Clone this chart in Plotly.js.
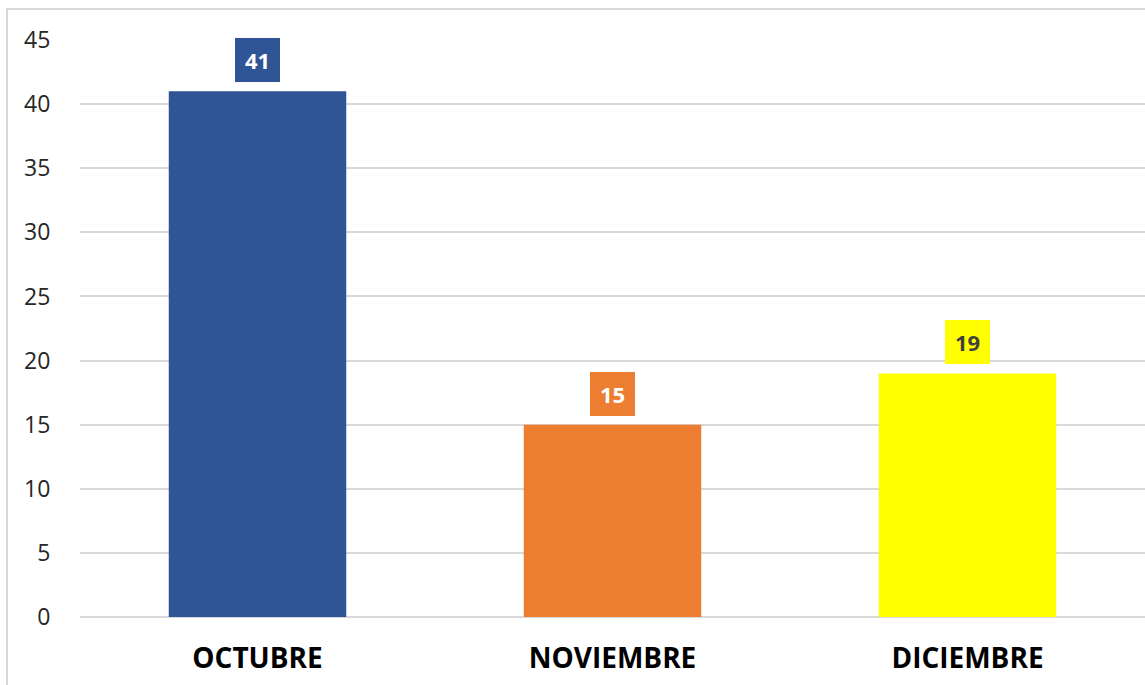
<!DOCTYPE html>
<html>
<head>
<meta charset="utf-8">
<script src="https://cdn.plot.ly/plotly-3.0.1.min.js"></script>
<style>
html,body{margin:0;padding:0;background:#fff;}
#wrap{position:relative;width:1145px;height:685px;overflow:hidden;}
#chart{width:1145px;height:685px;}
#frame{position:absolute;left:6px;top:8px;width:1200px;height:800px;border:2px solid #d9d9d9;pointer-events:none;}
</style>
</head>
<body>
<div id="wrap"><div id="chart"></div><div id="frame"></div></div>
<script>
const categories = ["OCTUBRE", "NOVIEMBRE", "DICIEMBRE"];
const values = [41, 15, 19];
const barColors = ["#2F5597", "#ED7D31", "#FFFF00"];
const labelTextColors = ["#ffffff", "#ffffff", "#404040"];
const yTickVals = [0, 5, 10, 15, 20, 25, 30, 35, 40, 45];

const trace = {
  type: "bar",
  x: categories,
  y: values,
  marker: {color: barColors, line: {width: 0}},
  width: 0.5,
  hoverinfo: "none"
};

const annotations = categories.map((c, i) => ({
  x: c, y: values[i], xref: "x", yref: "y",
  text: "<b>" + values[i] + "</b>",
  showarrow: false,
  yanchor: "bottom",
  yshift: 9,
  bgcolor: barColors[i],
  borderwidth: 0,
  borderpad: 0,
  width: 45, height: 44,
  font: {family: "Open Sans, sans-serif", size: 22, color: labelTextColors[i]}
}));

const layout = {
  width: 1145, height: 685,
  margin: {l: 80, r: 0, t: 40, b: 68},
  paper_bgcolor: "#ffffff",
  plot_bgcolor: "#ffffff",
  showlegend: false,
  bargap: 0.5,
  xaxis: {
    type: "category",
    showgrid: false,
    showline: false,
    zeroline: false,
    ticks: "outside", ticklen: 16, tickcolor: "rgba(0,0,0,0)",
    tickfont: {family: "Open Sans, sans-serif", size: 28, color: "#000000", weight: "bold"},
    tickprefix: "<b>", ticksuffix: "</b>"
  },
  yaxis: {
    range: [0, 45],
    tickvals: yTickVals,
    showgrid: true, gridcolor: "#d9d9d9", gridwidth: 2,
    zeroline: true, zerolinecolor: "#d9d9d9", zerolinewidth: 2,
    showline: false,
    ticks: "outside", ticklen: 24, tickcolor: "rgba(0,0,0,0)",
    tickfont: {family: "Open Sans, sans-serif", size: 23, color: "#262626"}
  },
  annotations: annotations
};

Plotly.newPlot("chart", [trace], layout, {displayModeBar: false, staticPlot: true});
</script>
</body>
</html>
